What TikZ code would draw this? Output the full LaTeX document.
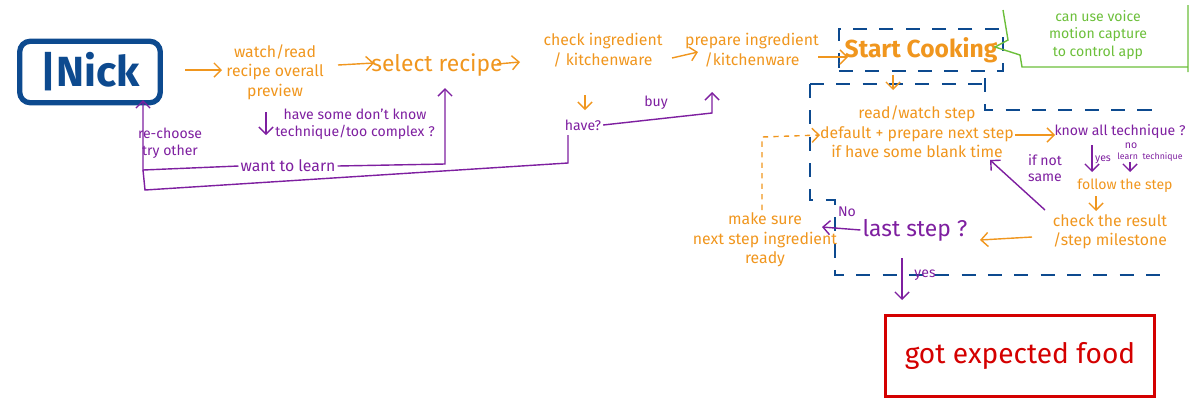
\documentclass[tikz,border=0pt]{standalone}
\usepackage{fontspec}
\setmainfont{Fira Sans}
\usetikzlibrary{arrows.meta}
\definecolor{ora}{HTML}{F0961E}
\definecolor{pur}{HTML}{7E1FA0}
\definecolor{blu}{HTML}{0D4A8F}
\definecolor{rd}{HTML}{D40000}
\definecolor{grn}{HTML}{6CBF3A}
\begin{document}
\begin{tikzpicture}[x=0.02cm,y=-0.02cm,
 ot/.style={text=ora,align=center,font=\fontsize{9}{11}\selectfont,inner sep=1pt},
 pt/.style={text=pur,align=center,font=\fontsize{8}{9.5}\selectfont,inner sep=1pt},
 oa/.style={draw=ora,thick,-{Straight Barb[length=4pt]}},
 pa/.style={draw=pur,thick,-{Straight Barb[length=4pt]}},
 pl/.style={draw=pur,thick},
 bd/.style={draw=blu,thick,dash pattern=on 8pt off 7pt}]
\useasboundingbox (0,0) rectangle (1200,407);
% Nick
\node[draw=blu,line width=3pt,rounded corners=6pt,minimum width=80pt,minimum height=35pt,text=blu,font=\fontsize{24}{28}\selectfont\bfseries] (nick) at (90,72) {|Nick};
\node[ot] (watch) at (275,72) {watch/read\\recipe overall\\preview};
\node[ot,font=\fontsize{13}{15}\selectfont] (sel) at (437,65) {select recipe};
\node[ot] (check) at (603,50) {check ingredient\\/ kitchenware};
\node[ot] (prep) at (752,50) {prepare ingredient\\/kitchenware};
\node[draw=blu,thick,dash pattern=on 8pt off 7pt,text=ora,font=\fontsize{14}{17}\selectfont\bfseries,minimum width=77pt,minimum height=24pt] (start) at (921,50) {Start Cooking};
\node[text=grn,align=center,font=\fontsize{8}{10}\selectfont] (green) at (1098,35) {can use voice\\motion capture\\to control app};
\draw[grn,thick] (1003,10) -- (1008,40) -- (995,47) -- (1020,55) -- (1022,67) -- (1187,67) (1188,5) -- (1188,72);
\draw[oa] (185,70) -- (222,70);
\draw[oa] (338,65) -- (374,63);
\draw[oa] (497,64) -- (520,62);
\draw[oa] (672,58) -- (698,52);
\draw[oa] (818,57) -- (848,57);
% purple left loops
\draw[pa] (266,112) -- (266,135);
\node[pt] (cx) at (355,124) {have some don't know\\technique/too complex ?};
\node[pt,font=\fontsize{9}{11}\selectfont] (learn) at (288,166) {want to learn};
\node[pt] (rech) at (170,143) {re-choose\\try other};
\draw[pa] (learn.east) -- (445,164) -- (445,88);
\draw[pa] (learn.west) -- (143,170) -- (143,100);
\node[pt] (have) at (583,125) {have?};
\draw[oa] (585,95) -- (585,110);
\node[pt] (buy) at (656,103) {buy};
\draw[pa] (have.east) -- (712,113) -- (712,92);
\draw[pl] (568,135) -- (568,163) -- (145,190) -- (143,170);
% blue dashed region
\draw[bd] (985,78) -- (985,110) -- (1160,110);
\draw[bd] (810,84) -- (985,84);
\draw[bd] (810,84) -- (810,200) -- (835,200) -- (835,275) -- (1160,275);
% cooking flow
\draw[oa] (start.south -| 893,0) ++(0,3) -- (893,90);
\node[ot] (step) at (917,132) {read/watch step\\default + prepare next step\\if have some blank time};
\draw[oa] (1015,135) -- (1055,135);
\node[pt] (know) at (1120,132) {know all technique ?};
\draw[pa] (1092,145) -- (1092,172);
\node[pt,font=\fontsize{6}{7}\selectfont] (yes1) at (1103,160) {yes};
\node[pt,font=\fontsize{6}{7}\selectfont] (no1) at (1131,146) {no};
\node[pt,font=\fontsize{5}{6}\selectfont] (lt) at (1150,157) {learn\ \ technique};
\draw[pa] (1130,162) -- (1130,172);
\node[ot,font=\fontsize{8}{9.5}\selectfont] (follow) at (1125,186) {follow the step};
\draw[oa] (1096,196) -- (1096,211);
\node[ot] (res) at (1110,232) {check the result\\/step milestone};
\draw[pa] (1045,210) -- (990,160);
\node[pt] (ns) at (1045,168) {if not\\same};
\draw[oa] (1032,237) -- (980,240);
\node[pt,font=\fontsize{13}{15}\selectfont] (last) at (915,230) {last step ?};
\draw[pa] (last.west) -- (822,227);
\node[pt] (no2) at (847,212) {No};
\node[ot] (make) at (765,240) {make sure\\next step ingredient\\ready};
\draw[draw=ora,thick,dashed,-{Straight Barb[length=4pt]}] (762,210) -- (762,137) -- (820,135);
\draw[pa] (902,258) -- (902,300);
\node[pt] (yes2) at (925,275) {yes};
\node[draw=rd,line width=2pt,text=rd,font=\fontsize{16}{18}\selectfont,minimum width=153pt,minimum height=46pt] (food) at (1020,356) {got expected food};
\end{tikzpicture}
\end{document}
